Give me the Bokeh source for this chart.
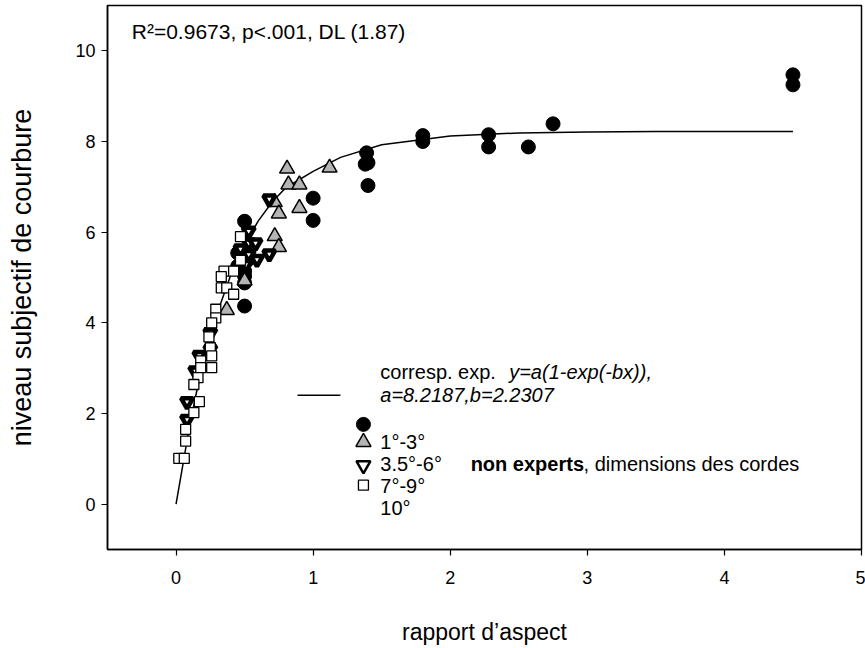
from bokeh.plotting import figure
from bokeh.models import Range1d, Label, FixedTicker
from bokeh.embed import file_html
from bokeh.resources import INLINE

# ---- data ----
x_ticks = [0, 1, 2, 3, 4, 5]
y_ticks = [0, 2, 4, 6, 8, 10]

# fitted curve
fit_x = [0.0, 0.05, 0.1, 0.15, 0.2, 0.3, 0.4, 0.5, 0.6, 0.7, 0.8, 1.0, 1.2, 1.5, 2.0, 2.5, 3.0, 3.5, 4.0, 4.5]
fit_y = [0.0, 0.87, 1.75, 2.48, 3.13, 4.21, 5.06, 5.72, 6.25, 6.66, 6.98, 7.34, 7.65, 7.93, 8.12, 8.19, 8.21, 8.22, 8.22, 8.22]

# black circles
circ_x = [4.5, 4.5, 2.75, 2.57, 2.28, 2.28, 1.8, 1.8, 1.39, 1.4, 1.38, 1.4, 1.0, 1.0,
          0.5, 0.5, 0.45, 0.45, 0.5, 0.5, 0.5, 0.52]
circ_y = [9.47, 9.25, 8.39, 7.88, 8.15, 7.88, 8.13, 8.0, 7.75, 7.53, 7.5, 7.03, 6.75, 6.26,
          6.24, 4.37, 5.54, 5.25, 5.03, 4.88, 5.14, 5.38]

# grey triangles
tri_x = [0.81, 0.82, 0.90, 1.12, 0.72, 0.75, 0.90, 0.72, 0.75, 0.5, 0.37]
tri_y = [7.40, 7.05, 7.05, 7.42, 6.66, 6.41, 6.53, 5.91, 5.67, 4.93, 4.28]

# inverted triangles
inv_x = [0.68, 0.68, 0.53, 0.53, 0.58, 0.47, 0.53, 0.59, 0.51, 0.25, 0.25, 0.17, 0.14, 0.08, 0.08]
inv_y = [6.73, 5.52, 6.02, 5.76, 5.76, 5.63, 5.51, 5.40, 5.29, 3.78, 3.41, 3.28, 2.94, 2.26, 1.87]

# open squares
sq_x = [0.47, 0.47, 0.35, 0.42, 0.33, 0.33, 0.37, 0.42, 0.29, 0.29, 0.26, 0.24, 0.25, 0.26,
        0.18, 0.18, 0.26, 0.16, 0.13, 0.17, 0.13, 0.07, 0.07, 0.02, 0.06]
sq_y = [5.90, 5.38, 5.14, 5.14, 5.02, 4.77, 4.77, 4.63, 4.30, 4.11, 4.0, 3.69, 3.45, 3.27,
        3.16, 3.01, 3.01, 2.79, 2.64, 2.26, 2.02, 1.65, 1.39, 1.01, 1.01]

FONT = "Liberation Sans"

p = figure(width=865, height=648, x_range=Range1d(-0.5, 5), y_range=Range1d(-1, 11),
           output_backend="svg", toolbar_location=None,
           min_border_left=107, min_border_right=4, min_border_top=5, min_border_bottom=99)
p.xgrid.visible = False
p.ygrid.visible = False
p.outline_line_color = "black"
p.outline_line_width = 1.5
p.background_fill_color = "white"
p.border_fill_color = "white"

for ax, ticks in ((p.xaxis, x_ticks), (p.yaxis, y_ticks)):
    ax.ticker = FixedTicker(ticks=ticks)
    ax.major_tick_out = 6
    ax.major_tick_in = 0
    ax.minor_tick_out = 0
    ax.minor_tick_in = 0
    ax.axis_line_width = 1.5
    ax.major_tick_line_width = 1.2
    ax.major_label_text_font = FONT
    ax.major_label_text_font_size = "18px"
    ax.major_label_text_color = "black"
    ax.axis_label_text_font = FONT
    ax.axis_label_text_font_style = "normal"
    ax.axis_label_text_color = "black"

p.xaxis.axis_label = "rapport d\u2019aspect"
p.yaxis.axis_label = "niveau subjectif de courbure"
p.xaxis.axis_label_text_font_size = "23px"
p.yaxis.axis_label_text_font_size = "27px"
p.xaxis.major_label_standoff = 15
p.xaxis.axis_label_standoff = 32
p.yaxis.major_label_standoff = 6
p.yaxis.axis_label_standoff = 35

# fit line
p.line(fit_x, fit_y, line_color="black", line_width=1.5)

# data
p.scatter(circ_x, circ_y, marker="circle", size=14, fill_color="black", line_color="black")
p.scatter(tri_x, tri_y, marker="triangle", size=15, fill_color="#b4b4b4", line_color="black", line_width=1.5)
p.scatter(inv_x, inv_y, marker="inverted_triangle", size=12, fill_color="white", line_color="black", line_width=4.5)
p.scatter(sq_x, sq_y, marker="square", size=10, fill_color="white", line_color="black", line_width=1.3)

# legend (manual, as in the reference)
p.line([0.886, 1.199], [2.40, 2.40], line_color="black", line_width=1.5)
p.scatter([1.367], [1.76], marker="circle", size=14, fill_color="black", line_color="black")
p.scatter([1.367], [1.37], marker="triangle", size=15, fill_color="#b4b4b4", line_color="black", line_width=1.5)
p.scatter([1.367], [0.86], marker="inverted_triangle", size=14, fill_color="white", line_color="black", line_width=2.5)
p.scatter([1.367], [0.42], marker="square", size=10, fill_color="white", line_color="black", line_width=1.3)

def lab(x, y, text, style="normal", size="20px"):
    p.add_layout(Label(x=x, y=y, text=text, text_font=FONT, text_font_size=size,
                       text_font_style=style, text_color="black", text_baseline="middle",
                       text_align="left"))

lab(-0.323, 10.42, "R\u00b2=0.9673, p<.001, DL (1.87)", size="21px")
lab(1.49, 2.91, "corresp. exp. ")
lab(2.43, 2.91, "y=a(1-exp(-bx)),", "italic")
lab(1.49, 2.40, "a=8.2187,b=2.2307", "italic")
lab(1.49, 1.37, "1\u00b0-3\u00b0")
lab(1.49, 0.88, "3.5\u00b0-6\u00b0")
lab(1.49, 0.40, "7\u00b0-9\u00b0")
lab(1.49, -0.09, "10\u00b0")
lab(2.149, 0.88, "non experts", "bold")
lab(2.973, 0.88, ", dimensions des cordes")

open("out.html", "w").write(file_html(p, INLINE))
